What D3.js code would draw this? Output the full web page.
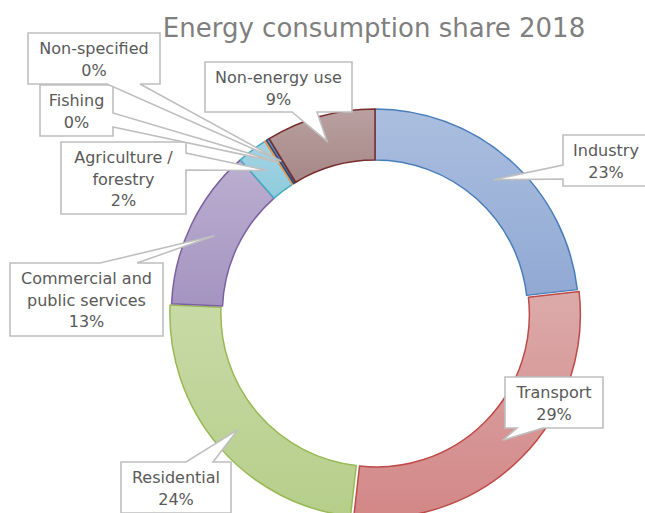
<!DOCTYPE html>
<html>
<head>
<meta charset="utf-8">
<script src="https://cdn.jsdelivr.net/npm/d3@7"></script>
<style>
  body { margin: 0; background: #fff; }
  svg { display: block; font-family: "DejaVu Sans", sans-serif; }
</style>
</head>
<body>
<svg width="645" height="513"></svg>
<script>
// data
var categories = ["Industry", "Transport", "Residential", "Commercial and public services",
                  "Agriculture / forestry", "Fishing", "Non-specified", "Non-energy use"];
var shares = [23.2, 28.6, 23.9, 12.8, 2.4, 0.15, 0.25, 8.7];
var labelLines = [["Industry"], ["Transport"], ["Residential"], ["Commercial and", "public services"],
                  ["Agriculture /", "forestry"], ["Fishing"], ["Non-specified"], ["Non-energy use"]];

// styles
var fillTop = ["#aabedf", "#dcaaaa", "#c8daa6", "#bbafd0", "#a3d4e3", "#fbb880", "#6f8fc0", "#b9a0a0"];
var fillBottom = ["#91a9d3", "#d38787", "#b6ce8a", "#a594c1", "#8fcbdd", "#f79646", "#3a5f95", "#a78787"];
var strokes = ["#4a7ebb", "#be4b48", "#98b954", "#7d60a0", "#46aac5", "#f79646", "#2c4d75", "#772c2a"];
var explode = [0, 2.5, 2, 0, 0, 0, 0, 0];

// callout boxes: x, y, w, h, side of the pointer, pointer base from a to b
var callouts = [
  {x: 563, y: 135, w: 86, h: 51, side: "left", a: 165, b: 179},
  {x: 505, y: 377, w: 98, h: 51, side: "bottom", a: 517, b: 543},
  {x: 121, y: 462, w: 110, h: 51, side: "top", a: 186, b: 213},
  {x: 10, y: 263, w: 153, h: 73, side: "top", a: 100, b: 137},
  {x: 61, y: 142, w: 125, h: 72, side: "right", a: 153, b: 170},
  {x: 40, y: 85, w: 73, h: 51, side: "right", a: 113, b: 127},
  {x: 28, y: 33, w: 132, h: 51, side: "bottom", a: 107, b: 140},
  {x: 205, y: 62, w: 147, h: 50, side: "bottom", a: 292, b: 317}
];

var svg = d3.select("svg"),
    cx = 375, cy = 312.6,
    outerR = 203.6, innerR = 152.6;

var rows = categories.map(function(c, i) { return {name: c, value: shares[i], i: i}; });

var pie = d3.pie().sort(null).value(function(d) { return d.value; });
var arc = d3.arc().innerRadius(innerR).outerRadius(outerR);
var arcs = pie(rows);

var defs = svg.append("defs");
arcs.forEach(function(d, i) {
  var g = defs.append("linearGradient")
      .attr("id", "grad" + i)
      .attr("x1", 0).attr("y1", 0).attr("x2", 0).attr("y2", 1);
  g.append("stop").attr("offset", "0%").attr("stop-color", fillTop[i]);
  g.append("stop").attr("offset", "100%").attr("stop-color", fillBottom[i]);
});

// title
svg.append("text")
    .attr("x", 374)
    .attr("y", 37)
    .attr("text-anchor", "middle")
    .attr("font-size", 26)
    .attr("fill", "#7f7f7f")
    .text("Energy consumption share 2018");

function offset(d, i) {
  var mid = (d.startAngle + d.endAngle) / 2;
  return [Math.sin(mid) * explode[i], -Math.cos(mid) * explode[i]];
}

var ring = svg.append("g")
    .attr("transform", "translate(" + cx + "," + cy + ")");

ring.selectAll("path")
    .data(arcs)
    .enter().append("path")
      .attr("d", arc)
      .attr("transform", function(d, i) { var o = offset(d, i); return "translate(" + o[0] + "," + o[1] + ")"; })
      .attr("fill", function(d, i) { return "url(#grad" + i + ")"; })
      .attr("stroke", function(d, i) { return strokes[i]; })
      .attr("stroke-width", 1.5)
      .attr("stroke-linejoin", "round");

function calloutPath(c, t) {
  var x = c.x, y = c.y, r = c.x + c.w, b = c.y + c.h;
  var p = d3.path();
  p.moveTo(x, y);
  if (c.side === "top") { p.lineTo(c.a, y); p.lineTo(t[0], t[1]); p.lineTo(c.b, y); }
  p.lineTo(r, y);
  if (c.side === "right") { p.lineTo(r, c.a); p.lineTo(t[0], t[1]); p.lineTo(r, c.b); }
  p.lineTo(r, b);
  if (c.side === "bottom") { p.lineTo(c.b, b); p.lineTo(t[0], t[1]); p.lineTo(c.a, b); }
  p.lineTo(x, b);
  if (c.side === "left") { p.lineTo(x, c.b); p.lineTo(t[0], t[1]); p.lineTo(x, c.a); }
  p.closePath();
  return p.toString();
}

var fmt = function(v) { return Math.round(v) + "%"; };

var labels = svg.append("g").selectAll("g")
    .data(arcs)
    .enter().append("g");

labels.append("path")
    .attr("d", function(d, i) {
      var ctr = arc.centroid(d), o = offset(d, i);
      return calloutPath(callouts[i], [cx + ctr[0] + o[0], cy + ctr[1] + o[1]]);
    })
    .attr("fill", "#fff")
    .attr("stroke", "#bfbfbf")
    .attr("stroke-width", 1.6)
    .attr("stroke-linejoin", "miter");

labels.each(function(d, i) {
  var c = callouts[i];
  var lines = labelLines[i].concat([fmt(d.data.value)]);
  var t = d3.select(this).append("text")
      .attr("text-anchor", "middle")
      .attr("font-size", 16)
      .attr("fill", "#595959");
  lines.forEach(function(s, k) {
    t.append("tspan")
        .attr("x", c.x + c.w / 2)
        .attr("y", c.y + 21 + k * 21.5)
        .text(s);
  });
});
</script>
</body>
</html>
